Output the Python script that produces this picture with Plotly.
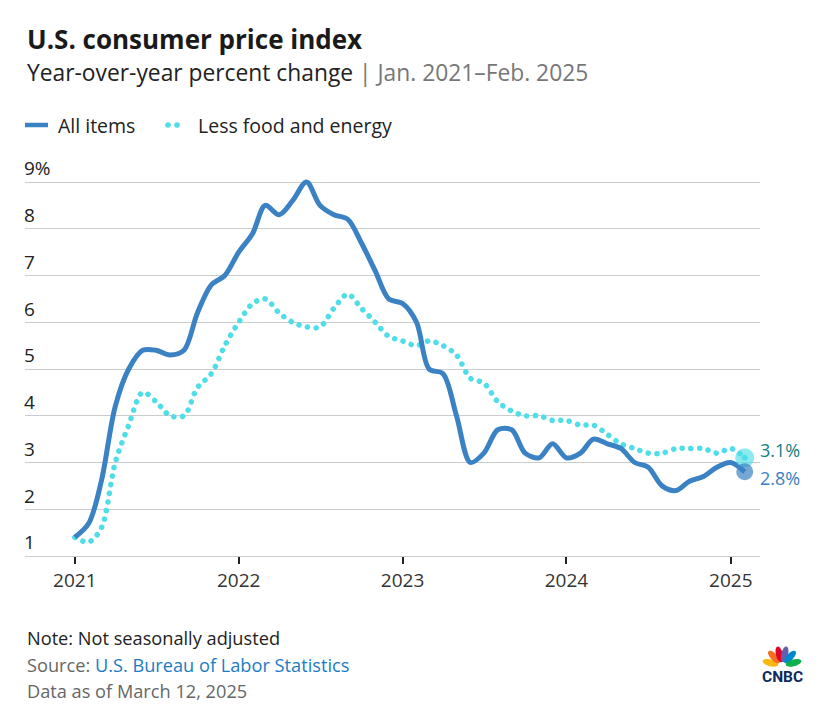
import plotly.graph_objects as go
import pandas as pd
import numpy as np

# ---------------- data ----------------
months = pd.date_range("2021-01-01", "2025-02-01", freq="MS")
all_items = [1.4, 1.7, 2.6, 4.2, 5.0, 5.4, 5.4, 5.3, 5.4, 6.2, 6.8, 7.0,
             7.5, 7.9, 8.5, 8.3, 8.6, 9.0, 8.5, 8.3, 8.2, 7.7, 7.1, 6.5,
             6.4, 6.0, 5.0, 4.9, 4.0, 3.0, 3.2, 3.7, 3.7, 3.2, 3.1, 3.4,
             3.1, 3.2, 3.5, 3.4, 3.3, 3.0, 2.9, 2.5, 2.4, 2.6, 2.7, 2.9,
             3.0, 2.8]
core = [1.4, 1.3, 1.6, 3.0, 3.8, 4.5, 4.3, 4.0, 4.0, 4.6, 4.9, 5.5,
        6.0, 6.4, 6.5, 6.2, 6.0, 5.9, 5.9, 6.3, 6.6, 6.3, 6.0, 5.7,
        5.6, 5.5, 5.6, 5.5, 5.3, 4.8, 4.7, 4.3, 4.1, 4.0, 4.0, 3.9,
        3.9, 3.8, 3.8, 3.6, 3.4, 3.3, 3.2, 3.2, 3.3, 3.3, 3.3, 3.2,
        3.3, 3.1]
y_ticks = [1, 2, 3, 4, 5, 6, 7, 8, 9]
y_ticktext = ["1", "2", "3", "4", "5", "6", "7", "8", "9%"]
x_ticks = ["2021-01-01", "2022-01-01", "2023-01-01", "2024-01-01", "2025-01-01"]
x_ticktext = ["2021", "2022", "2023", "2024", "2025"]

# ---------------- style ----------------
BLUE = "#3a82c3"
CYAN = "#4fdde7"
TEAL_TXT = "#16807e"
BLUE_TXT = "#3a7fc0"
FONT = "Open Sans"

W, H = 832, 712
L, R, T, B = 25, 760, 150, 556
Y_LO = 1.0
Y_HI = 9.0 + (182 - T) / ((B - 182) / 8.0)


def px(x):
    return (x - L) / (R - L)


def py(y):
    return (B - y) / (B - T)


fig = go.Figure()

fig.add_trace(go.Scatter(
    x=months, y=core, mode="lines", name="Less food and energy",
    line=dict(color=CYAN, width=5.5, dash="0.1px,8.6px", shape="spline", smoothing=0.9),
    hoverinfo="skip", showlegend=False))
fig.add_trace(go.Scatter(
    x=months, y=all_items, mode="lines", name="All items",
    line=dict(color=BLUE, width=5, shape="spline", smoothing=0.9),
    hoverinfo="skip", showlegend=False))

# end markers
fig.add_trace(go.Scatter(
    x=[months[-1]], y=[core[-1]], mode="markers",
    marker=dict(size=19, color="rgba(79,221,231,0.65)", line=dict(width=0)),
    hoverinfo="skip", showlegend=False))
fig.add_trace(go.Scatter(
    x=[months[-1]], y=[core[-1]], mode="markers",
    marker=dict(size=6, color=CYAN, line=dict(width=0)),
    hoverinfo="skip", showlegend=False))
fig.add_trace(go.Scatter(
    x=[months[-1]], y=[all_items[-1]], mode="markers",
    marker=dict(size=17, color="rgba(58,130,195,0.7)", line=dict(width=0)),
    hoverinfo="skip", showlegend=False))

x0 = pd.Timestamp("2021-01-01") - pd.Timedelta(days=111)
x1 = pd.Timestamp("2025-01-01") + pd.Timedelta(days=65)

fig.update_layout(
    width=W, height=H,
    margin=dict(l=L, r=W - R, t=T, b=H - B, pad=0),
    paper_bgcolor="white", plot_bgcolor="white",
    font=dict(family=FONT, color="#222"),
    xaxis=dict(
        range=[x0, x1], tickvals=x_ticks, ticktext=x_ticktext,
        showgrid=False, zeroline=False, showline=True, linecolor="#cccccc", linewidth=1,
        ticks="outside", ticklen=7, tickwidth=1.6, tickcolor="#222",
        tickfont=dict(size=19, color="#333", family=FONT), fixedrange=True),
    yaxis=dict(
        range=[Y_LO, Y_HI], tickvals=y_ticks, ticktext=y_ticktext,
        showgrid=True, gridcolor="#cccccc", gridwidth=1, zeroline=False, showline=False,
        ticks="", ticklabelposition="inside top", ticklabelstandoff=-4,
        tickfont=dict(size=19, color="#222", family=FONT), fixedrange=True),
)

ann = []
# title / subtitle
ann.append(dict(x=px(25), y=py(39), xref="paper", yref="paper", xanchor="left", yanchor="middle",
                text="<b>U.S. consumer price index</b>", showarrow=False,
                font=dict(size=26, color="#1a1a1a", family=FONT)))
ann.append(dict(x=px(25), y=py(73), xref="paper", yref="paper", xanchor="left", yanchor="middle",
                text="Year-over-year percent change <span style='color:#777'>| Jan. 2021–Feb. 2025</span>",
                showarrow=False, font=dict(size=22.8, color="#222", family=FONT)))
# legend
ann.append(dict(x=px(56), y=py(125), xref="paper", yref="paper", xanchor="left", yanchor="middle",
                text="All items", showarrow=False, font=dict(size=19.5, color="#222", family=FONT)))
ann.append(dict(x=px(196), y=py(125), xref="paper", yref="paper", xanchor="left", yanchor="middle",
                text="Less food and energy", showarrow=False, font=dict(size=19.5, color="#222", family=FONT)))
# end labels
ann.append(dict(x=months[-1], y=core[-1], xref="x", yref="y", xanchor="left", yanchor="middle",
                xshift=13, yshift=8, text="3.1%", showarrow=False,
                font=dict(size=18, color=TEAL_TXT, family=FONT)))
ann.append(dict(x=months[-1], y=all_items[-1], xref="x", yref="y", xanchor="left", yanchor="middle",
                xshift=13, yshift=-6, text="2.8%", showarrow=False,
                font=dict(size=18, color=BLUE_TXT, family=FONT)))
# footer
ann.append(dict(x=px(25), y=py(638), xref="paper", yref="paper", xanchor="left", yanchor="middle",
                text="Note: Not seasonally adjusted", showarrow=False,
                font=dict(size=18.2, color="#222", family=FONT)))
ann.append(dict(x=px(25), y=py(665), xref="paper", yref="paper", xanchor="left", yanchor="middle",
                text="Source: <span style='color:#1c7cc4'>U.S. Bureau of Labor Statistics</span>",
                showarrow=False, font=dict(size=18.2, color="#666", family=FONT)))
ann.append(dict(x=px(25), y=py(691), xref="paper", yref="paper", xanchor="left", yanchor="middle",
                text="Data as of March 12, 2025", showarrow=False,
                font=dict(size=18.2, color="#666", family=FONT)))
# CNBC wordmark
ann.append(dict(x=px(782), y=py(677), xref="paper", yref="paper", xanchor="center", yanchor="middle",
                text="<b>CNBC</b>", showarrow=False,
                font=dict(size=15.5, color="#0b2a5b", family="Roboto")))

shapes = []
# legend swatches
shapes.append(dict(type="line", xref="paper", yref="paper", x0=px(25), x1=px(48), y0=py(125), y1=py(125),
                   line=dict(color=BLUE, width=4.5)))
for cx in (168, 177):
    r = 2.8
    shapes.append(dict(type="circle", xref="paper", yref="paper",
                       x0=px(cx - r), x1=px(cx + r), y0=py(125 + r), y1=py(125 - r),
                       fillcolor=CYAN, line=dict(width=0)))

# peacock petals (decoration)
base = (782.0, 666.0)
petals = [("#fcb711", 165), ("#f37021", 132), ("#e4002b", 103),
          ("#6460aa", 77), ("#0089d0", 48), ("#0db14b", 15)]
t = np.linspace(0, 2 * np.pi, 24)
for col, ang in petals:
    a = np.deg2rad(ang)
    cxp = base[0] + 12 * np.cos(a)
    cyp = base[1] - 12 * np.sin(a)
    lx = 8.0 * np.cos(t)
    ly = 3.4 * np.sin(t)
    xs = cxp + lx * np.cos(a) - ly * np.sin(a)
    ys = cyp - (lx * np.sin(a) + ly * np.cos(a))
    path = "M " + " L ".join(f"{px(xx):.5f},{py(yy):.5f}" for xx, yy in zip(xs, ys)) + " Z"
    shapes.append(dict(type="path", xref="paper", yref="paper", path=path,
                       fillcolor=col, line=dict(width=0)))

fig.update_layout(annotations=ann, shapes=shapes)

post = """
document.body.style.margin='0';
var s=document.createElement('style');
s.textContent='body{margin:0 !important;} .scatterlayer path.js-line[style*="dasharray"]{stroke-linecap:round !important;}';
document.head.appendChild(s);
"""

fig.write_html("out.html", post_script=post, config={"displayModeBar": False})
